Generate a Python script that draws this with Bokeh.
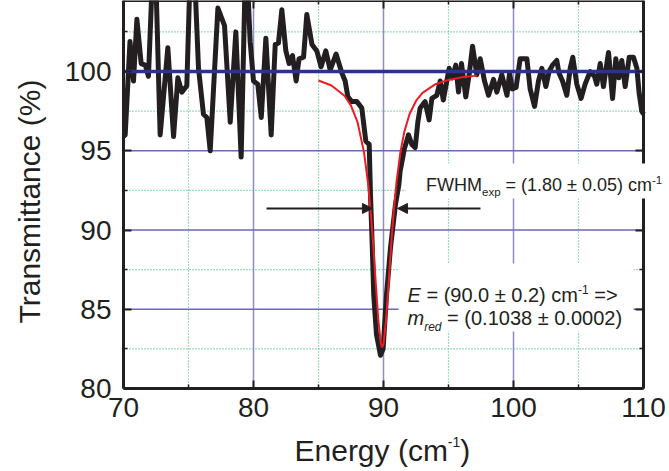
from bokeh.plotting import figure
from bokeh.models import (Range1d, FixedTicker, LinearAxis, Label, Arrow,
                          NormalHead, BoxAnnotation)
from bokeh.embed import file_html
from bokeh.resources import INLINE
import math

# ---------------- data ----------------
energy = [70.0, 70.13, 70.5, 70.77, 71.03, 71.36, 71.67, 71.92, 72.2, 72.5,
          72.82, 73.41, 73.85, 74.18, 74.49, 74.87, 75.1, 75.5, 75.77, 76.15,
          76.41, 76.67, 77.26, 77.77, 78.21, 78.64, 79.05, 79.35, 79.55, 79.74,
          80.0, 80.33, 80.6, 80.95, 81.36, 81.67, 81.92, 82.18, 82.49, 82.74,
          83.0, 83.28, 83.5, 83.85, 84.1, 84.5, 84.87, 85.2, 85.56, 85.9,
          86.35, 86.8, 87.05, 87.26, 87.56, 87.95, 88.33, 88.64, 88.9, 89.0,
          89.13, 89.25, 89.46, 89.77, 89.97, 90.23, 90.54, 90.92, 91.18, 91.28,
          91.6, 91.92, 92.18, 92.44, 92.64, 92.82, 93.2, 93.51, 93.72, 94.1,
          94.36, 94.6, 94.87, 95.05, 95.3, 95.56, 95.77, 96.0, 96.33, 96.59,
          96.85, 97.18, 97.44, 97.77, 98.08, 98.46, 98.72, 99.1, 99.5, 99.7,
          99.9, 100.2, 100.51, 101.03, 101.28, 101.62, 101.92, 102.18, 102.49, 102.74,
          103.0, 103.33, 103.5, 103.77, 104.1, 104.36, 104.56, 104.87, 105.2, 105.51,
          105.9, 106.23, 106.41, 106.67, 106.92, 107.31, 107.62, 107.87, 108.1, 108.33,
          108.59, 108.9, 109.23, 109.49, 109.67, 109.87, 110.0]
transmittance = [95.9, 96.0, 101.9, 99.4, 103.3, 100.5, 100.4, 99.7, 105.5, 105.5,
                 96.0, 101.5, 95.9, 99.6, 98.7, 99.1, 105.5, 105.5, 100.2, 97.3,
                 97.1, 95.0, 104.0, 102.9, 96.8, 102.5, 94.6, 105.5, 105.5, 101.9,
                 99.4, 99.2, 97.1, 102.1, 96.0, 101.7, 101.8, 103.9, 101.3, 100.5,
                 101.0, 99.4, 100.8, 100.9, 103.6, 101.7, 101.3, 100.3, 101.3, 100.1,
                 101.1, 99.9, 99.4, 98.4, 98.1, 98.1, 97.7, 95.6, 95.4, 92.2,
                 89.1, 85.9, 83.4, 82.1, 82.5, 85.9, 88.9, 91.6, 92.85, 93.7,
                 95.1, 96.0, 95.4, 95.2, 96.8, 97.7, 98.1, 96.95, 98.3, 98.5,
                 99.4, 98.2, 99.4, 100.2, 99.6, 100.4, 98.7, 100.5, 98.4, 99.8,
                 101.6, 99.8, 100.8, 99.4, 98.5, 99.5, 98.7, 99.8, 98.5, 99.9,
                 98.9, 99.0, 100.8, 100.8, 98.9, 97.8, 99.4, 100.2, 99.05, 100.0,
                 100.4, 100.7, 99.9, 99.4, 98.5, 100.2, 100.9, 99.2, 98.3, 99.2,
                 100.0, 99.7, 99.2, 100.5, 99.05, 101.2, 98.3, 100.8, 99.6, 100.7,
                 99.05, 100.9, 100.9, 100.2, 98.6, 97.5, 97.3]

fit_energy = [85.0, 86.0, 87.0, 87.5, 88.0, 88.5, 88.8, 89.0, 89.2, 89.4,
              89.6, 89.8, 89.9, 90.0, 90.2, 90.4, 90.6, 90.8, 91.0, 91.3,
              91.6, 92.0, 92.5, 93.0, 94.0, 95.0, 96.0, 97.2]
fit_transmittance = [99.43, 99.12, 98.47, 97.85, 96.81, 94.91, 93.02, 91.3, 89.16, 86.71,
                     84.34, 82.81, 82.6, 82.81, 84.34, 86.71, 89.16, 91.3, 93.02, 94.91,
                     96.19, 97.3, 98.14, 98.65, 99.2, 99.47, 99.63, 99.74]

x_major_ticks = [70, 80, 90, 100, 110]
x_minor_ticks = [75, 85, 95, 105]
y_major_ticks = [80, 85, 90, 95, 100]
y_minor_ticks = [82.5, 87.5, 92.5, 97.5, 102.5]
baseline_level = 100
arrow_level = 91.36
left_arrow = [81.0, 89.15]
right_arrow = [97.46, 91.08]

# ---------------- layout ----------------
W, H = 669, 471
PL, PB = 123, 388          # canvas px of the plot's left edge / bottom edge
SX, SY = 13.0, 15.85       # px per data unit
X0, X1 = 70, 110
Y0 = 80
Y1 = Y0 + PB / SY          # top of the plotting area = top of canvas
INK = "#231f20"
FONT = "Liberation Sans"
BASE_SHIFT = 0.23          # rendered baseline offset (fraction of font size)

p = figure(width=W, height=H,
           x_range=Range1d(X0 - PL / SX, X0 + (W - PL) / SX),
           y_range=Range1d(Y0 - (H - PB) / SY, Y1),
           output_backend="svg", toolbar_location=None,
           x_axis_type=None, y_axis_type=None, min_border=0)
p.min_border_left = p.min_border_right = p.min_border_top = p.min_border_bottom = 0
p.outline_line_color = None
p.background_fill_color = "white"
p.border_fill_color = "white"

xt = FixedTicker(ticks=x_major_ticks, minor_ticks=x_minor_ticks)
yt = FixedTicker(ticks=y_major_ticks, minor_ticks=y_minor_ticks)


def style_axis(ax, show_labels, standoff):
    ax.axis_line_color = INK
    ax.axis_line_width = 3
    ax.major_tick_line_color = INK
    ax.minor_tick_line_color = INK
    ax.major_tick_line_width = 2
    ax.minor_tick_line_width = 1.5
    ax.major_tick_in = 8
    ax.major_tick_out = 0
    ax.minor_tick_in = 4
    ax.minor_tick_out = 0
    ax.major_label_standoff = standoff
    if show_labels:
        ax.major_label_text_font = FONT
        ax.major_label_text_font_size = "28px"
        ax.major_label_text_color = INK
    else:
        ax.major_label_text_font_size = "0px"
        ax.major_label_text_alpha = 0


# ---------------- grid lines (from the tick lists) ----------------
GREEN = "#3dbd74"
xmaj = [t for t in x_major_ticks if X0 < t < X1]
ymaj = [t for t in y_major_ticks if Y0 < t < baseline_level]
p.segment(x0=x_minor_ticks, y0=[Y0] * len(x_minor_ticks), x1=x_minor_ticks,
          y1=[Y1] * len(x_minor_ticks), line_color=GREEN, line_width=1.2,
          line_dash="1 2")
p.segment(x0=[X0] * len(y_minor_ticks), y0=y_minor_ticks,
          x1=[X1] * len(y_minor_ticks), y1=y_minor_ticks, line_color=GREEN,
          line_width=1.2, line_dash="1 2")
p.segment(x0=xmaj, y0=[Y0] * len(xmaj), x1=xmaj, y1=[Y1] * len(xmaj),
          line_color="#8c8cc8", line_width=1.5)
p.segment(x0=[X0] * len(ymaj), y0=ymaj, x1=[X1] * len(ymaj), y1=ymaj,
          line_color="#6a6ab4", line_width=1.3)

# ---------------- data ----------------
p.line(energy, transmittance, line_color=INK, line_width=5, line_join="round")
p.line(fit_energy, fit_transmittance, line_color="#ed1c24", line_width=2)
p.segment(x0=[X0], y0=[baseline_level], x1=[X1], y1=[baseline_level],
          line_color="#2e3192", line_width=3.5)

# ---------------- axes (frame) ----------------
bx = LinearAxis(ticker=xt, fixed_location=Y0, bounds=(X0, X1))
style_axis(bx, True, 9)
ly = LinearAxis(ticker=yt, fixed_location=X0, bounds=(Y0, Y1))
style_axis(ly, True, 12)
tx = LinearAxis(ticker=xt, fixed_location=Y1, bounds=(X0, X1))
style_axis(tx, False, 0)
ry = LinearAxis(ticker=yt, fixed_location=X1, bounds=(Y0, Y1))
style_axis(ry, False, 0)
p.add_layout(bx, "below")
p.add_layout(ly, "left")
p.add_layout(tx, "above")
p.add_layout(ry, "right")

# ---------------- annotations ----------------
OFF = 0                   # page offset of the canvas


def px2x(xp):            # page px -> data x
    return X0 + (xp - OFF - PL) / SX


def px2y(yp):            # page px -> data y
    return Y0 + (OFF + PB - yp) / SY


widths = {' ': 278, '(': 333, ')': 333, '-': 333, '.': 278, '=': 584, '>': 584,
          '\u00b1': 549, 'E': 667, 'F': 611, 'W': 944, 'H': 722, 'M': 833,
          'T': 611, 'a': 556, 'c': 500, 'd': 556, 'e': 556, 'g': 556, 'i': 222,
          'm': 833, 'n': 556, 'p': 556, 'r': 333, 's': 500, 't': 278, 'x': 500,
          'y': 500, '%': 889}


def text_w(s, size):
    return sum(widths.get(ch, 556) for ch in s) / 1000.0 * size


def rich(pieces, x0, base):
    x = x0
    for txt, size, style, dy in pieces:
        lead = len(txt) - len(txt.lstrip(" "))
        x += text_w(txt[:lead], size)
        body = txt.strip(" ")
        yb = base + dy - BASE_SHIFT * size
        p.add_layout(Label(x=px2x(x), y=px2y(yb), text=body,
                           text_font=FONT, text_font_size=f"{size}px",
                           text_font_style=style, text_color=INK,
                           text_align="left", text_baseline="alphabetic"))
        x += text_w(body, size)


# white boxes behind annotation texts
p.add_layout(BoxAnnotation(left=px2x(405), right=px2x(662), top=px2y(163),
                           bottom=px2y(198), fill_color="white", fill_alpha=1,
                           line_color=None))
p.add_layout(BoxAnnotation(left=px2x(398), right=px2x(633), top=px2y(263),
                           bottom=px2y(331), fill_color="white", fill_alpha=1,
                           line_color=None))

rich([("FWHM", 18, "normal", 0), ("exp", 11.5, "normal", 5.5),
      (" = (1.80 \u00b1 0.05) cm", 18, "normal", 0), ("-1", 11.5, "normal", -7)],
     425.5, 189)
rich([("E", 20, "italic", 0), (" = (90.0 \u00b1 0.2) cm", 20, "normal", 0),
      ("-1", 12, "normal", -7.5), (" =>", 20, "normal", 0)], 407, 299)
rich([("m", 20, "italic", 0), ("red", 12, "italic", 7),
      (" = (0.1038 \u00b1 0.0002)", 20, "normal", 0)], 407, 322)

# axis titles
rich([("Energy (cm", 30, "normal", 0), ("-1", 14, "normal", -12),
      (")", 30, "normal", 0)], 294, 457)
p.add_layout(Label(x=px2x(36 - BASE_SHIFT * 30), y=px2y(201), text="Transmittance (%)",
                   angle=math.pi / 2, text_font=FONT, text_font_size="30px",
                   text_color=INK, text_align="center", text_baseline="alphabetic"))

# FWHM arrows
for xs, xe in (left_arrow, right_arrow):
    p.add_layout(Arrow(x_start=xs, y_start=arrow_level, x_end=xe, y_end=arrow_level,
                       line_color=INK, line_width=2,
                       end=NormalHead(size=10, fill_color=INK, line_color=INK,
                                      line_width=1)))

open("out.html", "w").write(file_html(p, INLINE))
